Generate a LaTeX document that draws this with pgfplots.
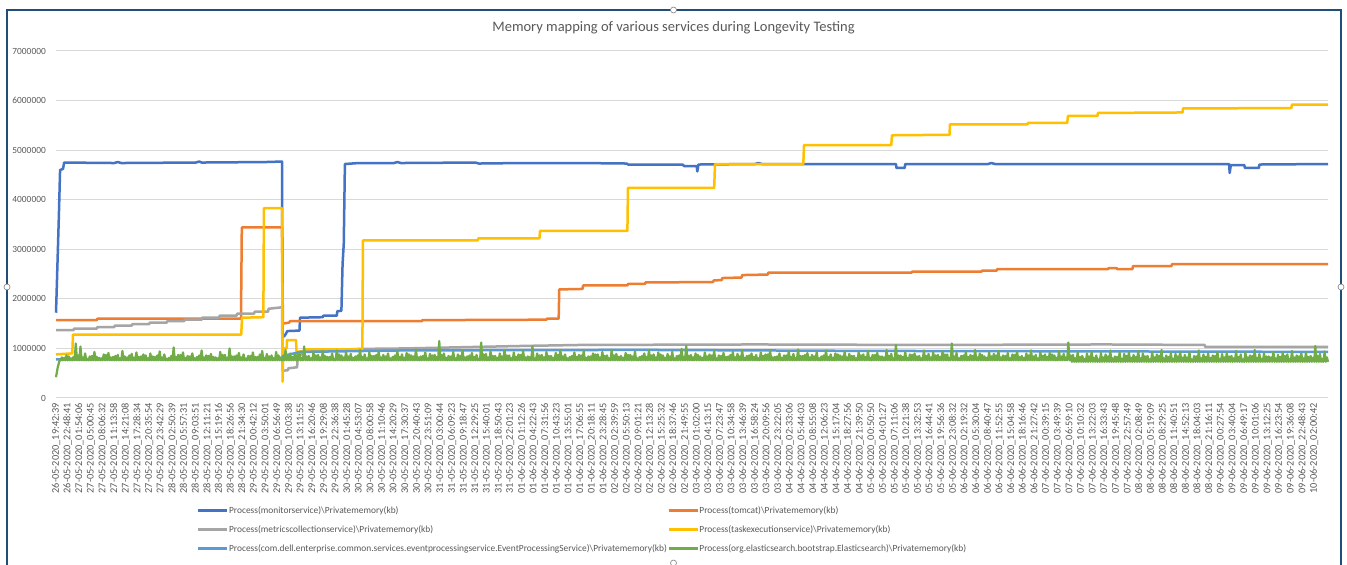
\documentclass[border=0pt]{standalone}
\usepackage{fontspec}
\setmainfont{Carlito}
\usepackage{pgfplots}
\pgfplotsset{compat=1.18}
\definecolor{c1}{HTML}{4472C4}
\definecolor{c2}{HTML}{ED7D31}
\definecolor{c3}{HTML}{A5A5A5}
\definecolor{c4}{HTML}{FFC000}
\definecolor{c5}{HTML}{5B9BD5}
\definecolor{c6}{HTML}{70AD47}
\definecolor{txtgray}{HTML}{595959}
\definecolor{gridgray}{HTML}{D9D9D9}
\definecolor{framecol}{HTML}{1F4E79}
\begin{document}
\begin{tikzpicture}
\useasboundingbox (0pt,0pt) rectangle (1347pt,565pt);
\fill[white] (0pt,0pt) rectangle (1347pt,565pt);
\begin{axis}[
  at={(56pt,167pt)}, anchor=south west, scale only axis,
  width=1272pt, height=347pt,
  xmin=0, xmax=109.19, ymin=0, ymax=7,
  clip=false,
  axis x line*=bottom, axis y line*=left,
  axis line style={draw=none},
  ytick={0,1,2,3,4,5,6,7},
  yticklabels={0,1000000,2000000,3000000,4000000,5000000,6000000,7000000},
  ymajorgrids, grid style={draw=gridgray, line width=1pt},
  major tick length=0pt,
  yticklabel style={font=\fontsize{9.4}{10}\selectfont, text=txtgray, inner sep=0pt, anchor=east},
  yticklabel shift=10pt,
  xtick={0,...,108},
  xticklabels={26-05-2020\_19:42:39,26-05-2020\_22:48:41,27-05-2020\_01:54:06,27-05-2020\_05:00:45,27-05-2020\_08:06:32,27-05-2020\_11:13:58,27-05-2020\_14:21:08,27-05-2020\_17:28:34,27-05-2020\_20:35:54,27-05-2020\_23:42:29,28-05-2020\_02:50:39,28-05-2020\_05:57:31,28-05-2020\_09:03:51,28-05-2020\_12:11:21,28-05-2020\_15:19:16,28-05-2020\_18:26:56,28-05-2020\_21:34:30,29-05-2020\_00:42:12,29-05-2020\_03:50:01,29-05-2020\_06:56:49,29-05-2020\_10:03:38,29-05-2020\_13:11:55,29-05-2020\_16:20:46,29-05-2020\_19:29:08,29-05-2020\_22:36:38,30-05-2020\_01:45:28,30-05-2020\_04:53:07,30-05-2020\_08:00:58,30-05-2020\_11:10:46,30-05-2020\_14:20:29,30-05-2020\_17:30:37,30-05-2020\_20:40:43,30-05-2020\_23:51:09,31-05-2020\_03:00:44,31-05-2020\_06:09:23,31-05-2020\_09:18:47,31-05-2020\_12:29:25,31-05-2020\_15:40:01,31-05-2020\_18:50:43,31-05-2020\_22:01:23,01-06-2020\_01:12:26,01-06-2020\_04:22:43,01-06-2020\_07:31:56,01-06-2020\_10:43:23,01-06-2020\_13:55:01,01-06-2020\_17:06:55,01-06-2020\_20:18:11,01-06-2020\_23:28:45,02-06-2020\_02:39:59,02-06-2020\_05:50:13,02-06-2020\_09:01:21,02-06-2020\_12:13:28,02-06-2020\_15:25:32,02-06-2020\_18:37:46,02-06-2020\_21:49:55,03-06-2020\_01:02:00,03-06-2020\_04:13:15,03-06-2020\_07:23:47,03-06-2020\_10:34:58,03-06-2020\_13:46:39,03-06-2020\_16:58:24,03-06-2020\_20:09:56,03-06-2020\_23:22:05,04-06-2020\_02:33:06,04-06-2020\_05:44:03,04-06-2020\_08:55:08,04-06-2020\_12:06:23,04-06-2020\_15:17:04,04-06-2020\_18:27:56,04-06-2020\_21:39:50,05-06-2020\_00:50:50,05-06-2020\_04:01:27,05-06-2020\_07:11:06,05-06-2020\_10:21:38,05-06-2020\_13:32:53,05-06-2020\_16:44:41,05-06-2020\_19:56:36,05-06-2020\_23:08:32,06-06-2020\_02:19:32,06-06-2020\_05:30:04,06-06-2020\_08:40:47,06-06-2020\_11:52:55,06-06-2020\_15:04:58,06-06-2020\_18:16:46,06-06-2020\_21:27:42,07-06-2020\_00:39:15,07-06-2020\_03:49:39,07-06-2020\_06:59:10,07-06-2020\_10:10:32,07-06-2020\_13:22:03,07-06-2020\_16:33:43,07-06-2020\_19:45:48,07-06-2020\_22:57:49,08-06-2020\_02:08:49,08-06-2020\_05:19:09,08-06-2020\_08:29:25,08-06-2020\_11:40:51,08-06-2020\_14:52:13,08-06-2020\_18:04:03,08-06-2020\_21:16:11,09-06-2020\_00:27:54,09-06-2020\_03:40:04,09-06-2020\_06:49:17,09-06-2020\_10:01:06,09-06-2020\_13:12:25,09-06-2020\_16:23:54,09-06-2020\_19:36:08,09-06-2020\_22:48:43,10-06-2020\_02:00:42},
  xticklabel style={font=\fontsize{10.3}{11}\selectfont, text=txtgray, rotate=90, anchor=east, inner sep=0pt},
  xticklabel shift=5pt,
  legend columns=2,
  legend cell align=left,
  legend image code/.code={\draw[#1, line width=2.5pt] (0pt,0pt) -- (29pt,0pt);},
  legend style={at={(0.1108,-0.3104)}, anchor=north west, draw=none, fill=none, inner sep=0pt,
    font=\fontsize{9.4}{10}\selectfont, text=txtgray,
    nodes={inner sep=0.5pt}, row sep=9.5pt, column sep=0pt},
  every axis plot/.append style={line width=2.5pt, line join=round},
]
% monitorservice
\addplot[c1] coordinates {(0,1.72)(0.05,2.1)(0.15,2.9)(0.25,3.7)(0.35,4.6)(0.6,4.62)(0.7,4.75)(5,4.74)(5.3,4.76)(5.6,4.74)(12,4.75)(12.3,4.77)(12.5,4.75)(18,4.76)(19.4,4.77)(19.45,1.23)(19.6,1.25)(19.75,1.3)(19.85,1.35)(20.9,1.36)(20.95,1.62)(22.9,1.63)(22.95,1.66)(24.1,1.66)(24.15,1.75)(24.5,1.76)(24.6,2.7)(24.7,3.1)(24.8,4.72)(26,4.74)(29,4.74)(29.3,4.76)(29.6,4.74)(36,4.75)(36.3,4.73)(40,4.74)(45,4.74)(49.0,4.73)(49.1,4.71)(53.8,4.71)(53.9,4.68)(55.0,4.68)(55.05,4.57)(55.15,4.71)(60,4.72)(60.3,4.74)(60.6,4.72)(72.1,4.72)(72.15,4.64)(72.85,4.64)(72.9,4.72)(80,4.72)(80.3,4.74)(80.6,4.72)(100.7,4.72)(100.75,4.54)(100.85,4.70)(102.0,4.70)(102.06,4.64)(103.26,4.64)(103.3,4.71)(109.19,4.72)};
\addlegendentry{Process(monitorservice)\textbackslash Privatememory(kb)}
% tomcat
\addplot[c2] coordinates {(0,1.57)(3.5,1.57)(3.55,1.6)(15.88,1.6)(15.95,3.44)(19.4,3.44)(19.48,1.5)(20.0,1.52)(20.1,1.55)(31.4,1.55)(31.45,1.57)(42.1,1.58)(42.15,1.6)(43.15,1.6)(43.2,2.19)(45.2,2.2)(45.25,2.27)(49.05,2.27)(49.1,2.3)(50.55,2.3)(50.6,2.33)(56.4,2.34)(56.45,2.37)(57.15,2.38)(57.2,2.42)(58.85,2.43)(58.9,2.48)(61.1,2.49)(61.15,2.53)(73.45,2.53)(73.5,2.55)(79.45,2.55)(79.5,2.57)(80.75,2.57)(80.8,2.6)(90.3,2.6)(90.35,2.62)(91.05,2.62)(91.1,2.6)(92.4,2.6)(92.45,2.66)(95.75,2.66)(95.8,2.7)(109.19,2.7)};
\addlegendentry{Process(tomcat)\textbackslash Privatememory(kb)}
% metricscollectionservice
\addplot[c3] coordinates {(0,1.37)(1.5,1.37)(1.55,1.40)(3.5,1.40)(3.55,1.43)(5,1.43)(5.05,1.46)(6.5,1.46)(6.55,1.49)(8,1.49)(8.05,1.52)(9.5,1.52)(9.55,1.55)(11,1.55)(11.05,1.58)(12.5,1.58)(12.55,1.62)(14,1.62)(14.05,1.66)(15.5,1.66)(15.55,1.7)(17,1.7)(17.05,1.74)(18.2,1.74)(18.25,1.8)(19.4,1.83)(19.45,0.55)(19.9,0.56)(19.95,0.6)(20.7,0.62)(20.75,0.85)(21.3,0.9)(21.35,0.95)(24,0.97)(26,0.99)(30,1.0)(36,1.03)(40,1.05)(45,1.07)(60,1.08)(75,1.07)(90,1.08)(98.6,1.07)(98.65,1.03)(109.19,1.03)};
\addlegendentry{Process(metricscollectionservice)\textbackslash Privatememory(kb)}
% taskexecutionservice
\addplot[c4] coordinates {(0,0.88)(1.4,0.9)(1.46,1.28)(15.9,1.28)(15.97,1.62)(17.8,1.63)(17.85,3.83)(19.4,3.83)(19.45,0.33)(19.5,1.0)(19.8,1.0)(19.83,1.17)(20.6,1.17)(20.65,0.93)(21.3,0.95)(21.37,0.98)(26.3,0.98)(26.35,3.18)(36.2,3.18)(36.25,3.22)(41.5,3.22)(41.55,3.37)(49.05,3.37)(49.1,4.24)(56.5,4.24)(56.57,4.72)(64.15,4.72)(64.21,5.1)(71.7,5.1)(71.76,5.3)(76.7,5.31)(76.74,5.52)(83.4,5.52)(83.43,5.55)(86.8,5.55)(86.87,5.69)(89.4,5.69)(89.44,5.75)(96.7,5.76)(96.74,5.84)(106.05,5.85)(106.09,5.92)(109.19,5.92)};
\addlegendentry{Process(taskexecutionservice)\textbackslash Privatememory(kb)}
% eventprocessingservice
\addplot[c5] coordinates {(0,0.78)(19.4,0.79)(19.5,0.85)(21,0.93)(30,0.96)(50,0.97)(70,0.95)(90,0.94)(109.19,0.93)};
\addlegendentry{Process(com.dell.enterprise.common.services.eventprocessingservice.EventProcessingService)\textbackslash Privatememory(kb)}
% elasticsearch
\addplot[c6, line width=2.2pt] coordinates {(0,0.42)(0.15,0.62)(0.3,0.75)
(0.4,0.76)(0.5,0.82)(0.6,0.76)(0.7,0.81)(0.8,0.76)(0.9,0.86)(1.0,0.76)(1.1,0.84)(1.2,0.76)(1.3,0.80)(1.4,0.76)(1.5,0.83)(1.6,0.76)(1.7,1.10)(1.8,0.76)(1.9,0.86)
(2.0,0.76)(2.1,1.04)(2.2,0.76)(2.3,0.82)(2.4,0.76)(2.5,0.90)(2.6,0.76)(2.7,0.79)(2.8,0.76)(2.9,0.84)(3.0,0.76)(3.1,0.85)(3.2,0.76)(3.3,0.93)(3.4,0.76)(3.5,0.83)
(3.6,0.76)(3.7,0.81)(3.8,0.76)(3.9,0.80)(4.0,0.76)(4.1,0.88)(4.2,0.76)(4.3,0.87)(4.4,0.76)(4.5,0.91)(4.6,0.76)(4.7,0.82)(4.8,0.76)(4.9,0.83)(5.0,0.76)(5.1,0.85)
(5.2,0.76)(5.3,0.87)(5.4,0.76)(5.5,0.80)(5.6,0.76)(5.7,0.95)(5.8,0.76)(5.9,0.84)(6.0,0.76)(6.1,0.82)(6.2,0.76)(6.3,0.86)(6.4,0.76)(6.5,0.89)(6.6,0.76)(6.7,0.81)
(6.8,0.76)(6.9,0.92)(7.0,0.76)(7.1,0.83)(7.2,0.76)(7.3,0.84)(7.4,0.76)(7.5,0.88)(7.6,0.76)(7.7,0.86)(7.8,0.76)(7.9,0.80)(8.0,0.76)(8.1,0.90)(8.2,0.76)(8.3,0.84)
(8.4,0.76)(8.5,0.83)(8.6,0.76)(8.7,0.86)(8.8,0.76)(8.9,0.94)(9.0,0.76)(9.1,0.82)(9.2,0.76)(9.3,0.88)(9.4,0.76)(9.5,0.79)(9.6,0.76)(9.7,0.81)(9.8,0.76)(9.9,0.85)
(10.0,0.76)(10.1,1.02)(10.2,0.76)(10.3,0.83)(10.4,0.76)(10.5,0.87)(10.6,0.76)(10.7,0.87)(10.8,0.76)(10.9,0.92)(11.0,0.76)(11.1,0.81)(11.2,0.76)(11.3,0.85)(11.4,0.76)(11.5,0.84)
(11.6,0.76)(11.7,0.90)(11.8,0.76)(11.9,0.80)(12.0,0.76)(12.1,0.83)(12.2,0.76)(12.3,0.86)(12.4,0.76)(12.5,0.96)(12.6,0.76)(12.7,0.82)(12.8,0.76)(12.9,0.86)(13.0,0.76)(13.1,0.85)
(13.2,0.76)(13.3,0.89)(13.4,0.76)(13.5,0.83)(13.6,0.76)(13.7,0.82)(13.8,0.76)(13.9,0.80)(14.0,0.76)(14.1,0.93)(14.2,0.76)(14.3,0.87)(14.4,0.76)(14.5,0.87)(14.6,0.76)(14.7,0.81)
(14.8,0.76)(14.9,1.00)(15.0,0.76)(15.1,0.84)(15.2,0.76)(15.3,0.84)(15.4,0.76)(15.5,0.86)(15.6,0.76)(15.7,0.91)(15.8,0.76)(15.9,0.82)(16.0,0.76)(16.1,0.88)(16.2,0.76)(16.3,0.79)
(16.4,0.76)(16.5,0.85)(16.6,0.76)(16.7,0.85)(16.8,0.76)(16.9,0.92)(17.0,0.76)(17.1,0.83)(17.2,0.76)(17.3,0.83)(17.4,0.76)(17.5,0.88)(17.6,0.76)(17.7,0.95)(17.8,0.76)(17.9,0.81)
(18.0,0.76)(18.1,0.89)(18.2,0.76)(18.3,0.84)(18.4,0.76)(18.5,0.86)(18.6,0.76)(18.7,0.80)(18.8,0.76)(18.9,0.93)(19.0,0.76)(19.1,0.86)(19.2,0.76)(19.3,0.82)(19.4,0.76)(19.5,0.82)
(19.6,0.76)(19.7,0.97)(19.8,0.76)(19.9,0.85)(20.0,0.76)(20.1,0.90)(20.2,0.76)(20.3,0.83)(20.4,0.76)(20.5,0.88)(20.6,0.76)(20.7,0.87)(20.8,0.76)(20.9,0.91)(21.0,0.76)(21.1,0.81)
(21.2,0.76)(21.3,1.04)(21.4,0.76)(21.5,0.84)(21.6,0.76)(21.7,0.85)(21.8,0.76)(21.9,0.80)(22.0,0.76)(22.1,0.92)(22.2,0.76)(22.3,0.86)(22.4,0.76)(22.5,0.87)(22.6,0.76)(22.7,0.82)
(22.8,0.76)(22.9,0.95)(23.0,0.76)(23.1,0.85)(23.2,0.76)(23.3,0.83)(23.4,0.76)(23.5,0.83)(23.6,0.76)(23.7,0.90)(23.8,0.76)(23.9,0.79)(24.0,0.76)(24.1,0.96)(24.2,0.76)(24.3,0.88)
(24.4,0.76)(24.5,0.86)(24.6,0.76)(24.7,0.82)(24.8,0.76)(24.9,0.93)(25.0,0.76)(25.1,0.84)(25.2,0.76)(25.3,0.89)(25.4,0.76)(25.5,0.81)(25.6,0.76)(25.7,0.84)(25.8,0.76)(25.9,0.86)
(26.0,0.76)(26.1,0.97)(26.2,0.76)(26.3,0.83)(26.4,0.76)(26.5,0.88)(26.6,0.76)(26.7,0.80)(26.8,0.76)(26.9,0.92)(27.0,0.76)(27.1,0.85)(27.2,0.76)(27.3,0.85)(27.4,0.76)(27.5,0.87)
(27.6,0.76)(27.7,0.94)(27.8,0.76)(27.9,0.82)(28.0,0.76)(28.1,0.87)(28.2,0.76)(28.3,0.84)(28.4,0.76)(28.5,0.90)(28.6,0.76)(28.7,0.80)(28.8,0.76)(28.9,0.83)(29.0,0.76)(29.1,0.86)
(29.2,0.76)(29.3,0.95)(29.4,0.76)(29.5,0.83)(29.6,0.76)(29.7,0.88)(29.8,0.76)(29.9,0.81)(30.0,0.76)(30.1,0.91)(30.2,0.76)(30.3,0.88)(30.4,0.76)(30.5,0.86)(30.6,0.76)(30.7,0.84)
(30.8,0.76)(30.9,0.98)(31.0,0.76)(31.1,0.82)(31.2,0.76)(31.3,0.84)(31.4,0.76)(31.5,0.85)(31.6,0.76)(31.7,0.92)(31.8,0.76)(31.9,0.80)(32.0,0.76)(32.1,0.89)(32.2,0.76)(32.3,0.86)
(32.4,0.76)(32.5,0.87)(32.6,0.76)(32.7,0.83)(32.8,0.76)(32.9,1.15)(33.0,0.76)(33.1,0.87)(33.2,0.76)(33.3,0.90)(33.4,0.76)(33.5,0.81)(33.6,0.76)(33.7,0.85)(33.8,0.76)(33.9,0.84)
(34.0,0.76)(34.1,0.93)(34.2,0.76)(34.3,0.80)(34.4,0.76)(34.5,0.88)(34.6,0.76)(34.7,0.85)(34.8,0.76)(34.9,0.96)(35.0,0.76)(35.1,0.82)(35.2,0.76)(35.3,0.84)(35.4,0.76)(35.5,0.86)
(35.6,0.76)(35.7,0.91)(35.8,0.76)(35.9,0.83)(36.0,0.76)(36.1,0.87)(36.2,0.76)(36.3,0.79)(36.4,0.76)(36.5,1.12)(36.6,0.76)(36.7,0.88)(36.8,0.76)(36.9,0.89)(37.0,0.76)(37.1,0.82)
(37.2,0.76)(37.3,0.94)(37.4,0.76)(37.5,0.85)(37.6,0.76)(37.7,0.85)(37.8,0.76)(37.9,0.81)(38.0,0.76)(38.1,0.90)(38.2,0.76)(38.3,0.84)(38.4,0.76)(38.5,0.97)(38.6,0.76)(38.7,0.86)
(38.8,0.76)(38.9,0.86)(39.0,0.76)(39.1,0.80)(39.2,0.76)(39.3,0.92)(39.4,0.76)(39.5,0.83)(39.6,0.76)(39.7,0.88)(39.8,0.76)(39.9,0.87)(40.0,0.76)(40.1,0.95)(40.2,0.76)(40.3,0.82)
(40.4,0.76)(40.5,0.84)(40.6,0.76)(40.7,0.83)(40.8,0.76)(40.9,1.05)(41.0,0.76)(41.1,0.80)(41.2,0.76)(41.3,0.90)(41.4,0.76)(41.5,0.86)(41.6,0.76)(41.7,0.87)(41.8,0.76)(41.9,0.82)
(42.0,0.76)(42.1,0.93)(42.2,0.76)(42.3,0.85)(42.4,0.76)(42.5,0.85)(42.6,0.76)(42.7,0.81)(42.8,0.76)(42.9,0.91)(43.0,0.76)(43.1,0.87)(43.2,0.76)(43.3,0.96)(43.4,0.76)(43.5,0.84)
(43.6,0.76)(43.7,0.88)(43.8,0.76)(43.9,0.80)(44.0,0.76)(44.1,0.83)(44.2,0.76)(44.3,0.85)(44.4,0.76)(44.5,0.92)(44.6,0.76)(44.7,0.83)(44.8,0.76)(44.9,0.87)(45.0,0.76)(45.1,0.86)
(45.2,0.76)(45.3,0.95)(45.4,0.76)(45.5,0.81)(45.6,0.76)(45.7,0.84)(45.8,0.76)(45.9,0.84)(46.0,0.76)(46.1,0.90)(46.2,0.76)(46.3,0.88)(46.4,0.76)(46.5,0.88)(46.6,0.76)(46.7,0.82)
(46.8,0.76)(46.9,0.93)(47.0,0.76)(47.1,0.85)(47.2,0.76)(47.3,0.86)(47.4,0.76)(47.5,0.80)(47.6,0.76)(47.7,0.97)(47.8,0.76)(47.9,0.86)(48.0,0.76)(48.1,0.89)(48.2,0.76)(48.3,0.83)
(48.4,0.76)(48.5,0.85)(48.6,0.76)(48.7,0.81)(48.8,0.76)(48.9,0.91)(49.0,0.76)(49.1,0.87)(49.2,0.76)(49.3,0.87)(49.4,0.76)(49.5,0.84)(49.6,0.76)(49.7,0.94)(49.8,0.76)(49.9,0.80)
(50.0,0.76)(50.1,0.83)(50.2,0.76)(50.3,0.85)(50.4,0.76)(50.5,0.90)(50.6,0.76)(50.7,0.83)(50.8,0.76)(50.9,0.96)(51.0,0.76)(51.1,0.86)(51.2,0.76)(51.3,0.88)(51.4,0.76)(51.5,0.82)
(51.6,0.76)(51.7,0.92)(51.8,0.76)(51.9,0.88)(52.0,0.76)(52.1,0.86)(52.2,0.76)(52.3,0.81)(52.4,0.76)(52.5,0.89)(52.6,0.76)(52.7,0.84)(52.8,0.76)(52.9,0.93)(53.0,0.76)(53.1,0.80)
(53.2,0.76)(53.3,0.85)(53.4,0.76)(53.5,0.86)(53.6,0.76)(53.7,0.99)(53.8,0.76)(53.9,0.83)(54.0,0.76)(54.1,1.05)(54.2,0.76)(54.3,0.85)(54.4,0.76)(54.5,0.87)(54.6,0.76)(54.7,0.82)
(54.8,0.76)(54.9,0.90)(55.0,0.76)(55.1,0.87)(55.2,0.76)(55.3,0.84)(55.4,0.76)(55.5,0.81)(55.6,0.76)(55.7,0.92)(55.8,0.76)(55.9,0.84)(56.0,0.76)(56.1,0.88)(56.2,0.76)(56.3,0.86)
(56.4,0.76)(56.5,0.95)(56.6,0.76)(56.7,0.80)(56.8,0.76)(56.9,0.86)(57.0,0.76)(57.1,0.85)(57.2,0.76)(57.3,0.91)(57.4,0.76)(57.5,0.83)(57.6,0.76)(57.7,0.84)(57.8,0.76)(57.9,0.87)
(58.0,0.76)(58.1,0.93)(58.2,0.76)(58.3,0.82)(58.4,0.76)(58.5,0.89)(58.6,0.76)(58.7,0.84)(58.8,0.76)(58.9,0.97)(59.0,0.76)(59.1,0.81)(59.2,0.76)(59.3,0.85)(59.4,0.76)(59.5,0.86)
(59.6,0.76)(59.7,0.90)(59.8,0.76)(59.9,0.83)(60.0,0.76)(60.1,0.87)(60.2,0.76)(60.3,0.80)(60.4,0.76)(60.5,0.92)(60.6,0.76)(60.7,0.85)(60.8,0.76)(60.9,0.88)(61.0,0.76)(61.1,0.88)
(61.2,0.76)(61.3,0.95)(61.4,0.76)(61.5,0.82)(61.6,0.76)(61.7,0.83)(61.8,0.76)(61.9,0.84)(62.0,0.76)(62.1,0.90)(62.2,0.76)(62.3,0.81)(62.4,0.76)(62.5,0.86)(62.6,0.76)(62.7,0.86)
(62.8,0.76)(62.9,0.94)(63.0,0.76)(63.1,0.83)(63.2,0.76)(63.3,0.89)(63.4,0.76)(63.5,0.80)(63.6,0.76)(63.7,0.98)(63.8,0.76)(63.9,0.85)(64.0,0.76)(64.1,0.85)(64.2,0.76)(64.3,0.87)
(64.4,0.76)(64.5,0.91)(64.6,0.76)(64.7,0.82)(64.8,0.76)(64.9,0.87)(65.0,0.76)(65.1,0.84)(65.2,0.76)(65.3,0.93)(65.4,0.76)(65.5,0.80)(65.6,0.76)(65.7,0.84)(65.8,0.76)(65.9,0.86)
(66.0,0.76)(66.1,0.96)(66.2,0.76)(66.3,0.83)(66.4,0.76)(66.5,0.88)(66.6,0.76)(66.7,0.81)(66.8,0.76)(66.9,0.90)(67.0,0.76)(67.1,0.88)(67.2,0.76)(67.3,0.86)(67.4,0.76)(67.5,0.84)
(67.6,0.76)(67.7,0.94)(67.8,0.76)(67.9,0.82)(68.0,0.76)(68.1,0.89)(68.2,0.76)(68.3,0.85)(68.4,0.76)(68.5,0.85)(68.6,0.76)(68.7,0.80)(68.8,0.76)(68.9,0.92)(69.0,0.76)(69.1,0.86)
(69.2,0.76)(69.3,0.88)(69.4,0.76)(69.5,0.83)(69.6,0.76)(69.7,0.95)(69.8,0.76)(69.9,0.81)(70.0,0.76)(70.1,0.87)(70.2,0.76)(70.3,0.87)(70.4,0.76)(70.5,0.91)(70.6,0.76)(70.7,0.84)
(70.8,0.76)(70.9,0.84)(71.0,0.76)(71.1,0.82)(71.2,0.76)(71.3,0.97)(71.4,0.76)(71.5,0.85)(71.6,0.76)(71.7,0.89)(71.8,0.76)(71.9,0.80)(72.0,0.76)(72.1,1.07)(72.2,0.76)(72.3,0.86)
(72.4,0.76)(72.5,0.86)(72.6,0.76)(72.7,0.83)(72.8,0.76)(72.9,0.93)(73.0,0.76)(73.1,0.81)(73.2,0.76)(73.3,0.88)(73.4,0.76)(73.5,0.87)(73.6,0.76)(73.7,0.90)(73.8,0.76)(73.9,0.84)
(74.0,0.76)(74.1,0.85)(74.2,0.76)(74.3,0.80)(74.4,0.76)(74.5,0.96)(74.6,0.76)(74.7,0.85)(74.8,0.76)(74.9,0.89)(75.0,0.76)(75.1,0.82)(75.2,0.76)(75.3,0.92)(75.4,0.76)(75.5,0.86)
(75.6,0.76)(75.7,0.87)(75.8,0.76)(75.9,0.83)(76.0,0.76)(76.1,0.94)(76.2,0.76)(76.3,0.88)(76.4,0.76)(76.5,0.88)(76.6,0.76)(76.7,0.81)(76.8,0.76)(76.9,1.10)(77.0,0.76)(77.1,0.84)
(77.2,0.76)(77.3,0.91)(77.4,0.76)(77.5,0.80)(77.6,0.76)(77.7,0.85)(77.8,0.76)(77.9,0.86)(78.0,0.76)(78.1,0.93)(78.2,0.76)(78.3,0.83)(78.4,0.76)(78.5,0.87)(78.6,0.76)(78.7,0.85)
(78.8,0.76)(78.9,0.97)(79.0,0.76)(79.1,0.82)(79.2,0.76)(79.3,0.90)(79.4,0.76)(79.5,0.87)(79.6,0.76)(79.7,0.84)(79.8,0.76)(79.9,0.81)(80.0,0.76)(80.1,0.92)(80.2,0.76)(80.3,0.84)
(80.4,0.76)(80.5,0.89)(80.6,0.76)(80.7,0.86)(80.8,0.76)(80.9,0.95)(81.0,0.76)(81.1,0.82)(81.2,0.76)(81.3,0.86)(81.4,0.76)(81.5,0.85)(81.6,0.76)(81.7,0.91)(81.8,0.76)(81.9,0.80)
(82.0,0.76)(82.1,0.88)(82.2,0.76)(82.3,0.87)(82.4,0.76)(82.5,0.94)(82.6,0.76)(82.7,0.83)(82.8,0.76)(82.9,0.85)(83.0,0.76)(83.1,0.81)(83.2,0.76)(83.3,0.90)(83.4,0.76)(83.5,0.86)
(83.6,0.76)(83.7,0.96)(83.8,0.76)(83.9,0.84)(84.0,0.76)(84.1,0.87)(84.2,0.76)(84.3,0.80)(84.4,0.76)(84.5,0.93)(84.6,0.76)(84.7,0.85)(84.8,0.76)(84.9,0.88)(85.0,0.76)(85.1,0.83)
(85.2,0.76)(85.3,0.91)(85.4,0.76)(85.5,0.88)(85.6,0.76)(85.7,0.86)(85.8,0.76)(85.9,0.81)(86.0,0.76)(86.1,0.95)(86.2,0.76)(86.3,0.84)(86.4,0.76)(86.5,0.89)(86.6,0.76)(86.7,0.82)
(86.8,0.76)(86.9,1.12)(87.0,0.76)(87.1,0.86)(87.2,0.73)(87.3,0.87)(87.4,0.73)(87.5,0.80)(87.6,0.73)(87.7,0.92)(87.8,0.73)(87.9,0.83)
(88.0,0.73)(88.1,0.85)(88.2,0.73)(88.3,0.79)(88.4,0.73)(88.5,0.90)(88.6,0.73)(88.7,0.84)(88.8,0.73)(88.9,0.94)(89.0,0.73)(89.1,0.81)(89.2,0.73)(89.3,0.86)(89.4,0.73)(89.5,0.78)
(89.6,0.73)(89.7,0.91)(89.8,0.73)(89.9,0.82)(90.0,0.73)(90.1,0.88)(90.2,0.73)(90.3,0.84)(90.4,0.73)(90.5,0.96)(90.6,0.73)(90.7,0.80)(90.8,0.73)(90.9,0.84)(91.0,0.73)(91.1,0.83)
(91.2,0.73)(91.3,0.92)(91.4,0.73)(91.5,0.79)(91.6,0.73)(91.7,0.89)(91.8,0.73)(91.9,0.85)(92.0,0.73)(92.1,0.93)(92.2,0.73)(92.3,0.81)(92.4,0.73)(92.5,0.87)(92.6,0.73)(92.7,0.83)
(92.8,0.73)(92.9,0.95)(93.0,0.73)(93.1,0.80)(93.2,0.73)(93.3,0.90)(93.4,0.73)(93.5,0.84)(93.6,0.73)(93.7,0.85)(93.8,0.73)(93.9,0.78)(94.0,0.73)(94.1,0.93)(94.2,0.73)(94.3,0.82)
(94.4,0.73)(94.5,0.88)(94.6,0.73)(94.7,0.85)(94.8,0.73)(94.9,0.97)(95.0,0.73)(95.1,0.80)(95.2,0.73)(95.3,0.86)(95.4,0.73)(95.5,0.83)(95.6,0.73)(95.7,0.91)(95.8,0.73)(95.9,0.79)
(96.0,0.73)(96.1,0.89)(96.2,0.73)(96.3,0.84)(96.4,0.73)(96.5,0.94)(96.6,0.73)(96.7,0.81)(96.8,0.73)(96.9,0.87)(97.0,0.73)(97.1,0.82)(97.2,0.73)(97.3,0.92)(97.4,0.73)(97.5,0.78)
(97.6,0.73)(97.7,0.85)(97.8,0.73)(97.9,0.84)(98.0,0.73)(98.1,0.96)(98.2,0.73)(98.3,0.80)(98.4,0.73)(98.5,0.88)(98.6,0.73)(98.7,0.83)(98.8,0.73)(98.9,0.90)(99.0,0.73)(99.1,0.81)
(99.2,0.73)(99.3,0.86)(99.4,0.73)(99.5,0.85)(99.6,0.73)(99.7,0.93)(99.8,0.73)(99.9,0.79)(100.0,0.73)(100.1,0.89)(100.2,0.73)(100.3,0.82)(100.4,0.73)(100.5,0.91)(100.6,0.73)(100.7,0.84)
(100.8,0.73)(100.9,0.85)(101.0,0.73)(101.1,0.80)(101.2,0.73)(101.3,0.95)(101.4,0.73)(101.5,0.83)(101.6,0.73)(101.7,0.88)(101.8,0.73)(101.9,0.78)(102.0,0.73)(102.1,0.92)(102.2,0.73)(102.3,0.82)
(102.4,0.73)(102.5,0.86)(102.6,0.73)(102.7,0.85)(102.8,0.73)(102.9,0.97)(103.0,0.73)(103.1,0.81)(103.2,0.73)(103.3,0.89)(103.4,0.73)(103.5,0.79)(103.6,0.73)(103.7,0.90)(103.8,0.73)(103.9,0.84)
(104.0,0.73)(104.1,0.84)(104.2,0.73)(104.3,0.82)(104.4,0.73)(104.5,0.93)(104.6,0.73)(104.7,0.80)(104.8,0.73)(104.9,0.87)(105.0,0.73)(105.1,0.83)(105.2,0.73)(105.3,0.91)(105.4,0.73)(105.5,0.85)
(105.6,0.73)(105.7,0.88)(105.8,0.73)(105.9,0.79)(106.0,0.73)(106.1,0.95)(106.2,0.73)(106.3,0.82)(106.4,0.73)(106.5,0.86)(106.6,0.73)(106.7,0.84)(106.8,0.73)(106.9,0.90)(107.0,0.73)(107.1,0.80)
(107.2,0.73)(107.3,0.92)(107.4,0.73)(107.5,0.83)(107.6,0.73)(107.7,0.85)(107.8,0.73)(107.9,0.81)(108.0,0.73)(108.1,1.05)(108.2,0.73)(108.3,0.85)(108.4,0.73)(108.5,0.89)(108.6,0.73)(108.7,0.79)(108.8,0.73)(108.9,0.94)(109.0,0.73)(109.1,0.82)(109.19,0.73)};
\addlegendentry{Process(org.elasticsearch.bootstrap.Elasticsearch)\textbackslash Privatememory(kb)}
\end{axis}
\node[font=\fontsize{14.5}{16}\selectfont, text=txtgray] at (673.5pt,537pt) {Memory mapping of various services during Longevity Testing};
\draw[framecol, line width=2pt] (7pt,-5pt) -- (7pt,555pt) -- (1341pt,555pt) -- (1341pt,-5pt);
\foreach \p in {(673.5pt,555pt),(7pt,278pt),(1341pt,278pt),(673.5pt,2pt)}
  \draw[gray, fill=white, line width=0.6pt] \p circle (3pt);
\end{tikzpicture}
\end{document}
